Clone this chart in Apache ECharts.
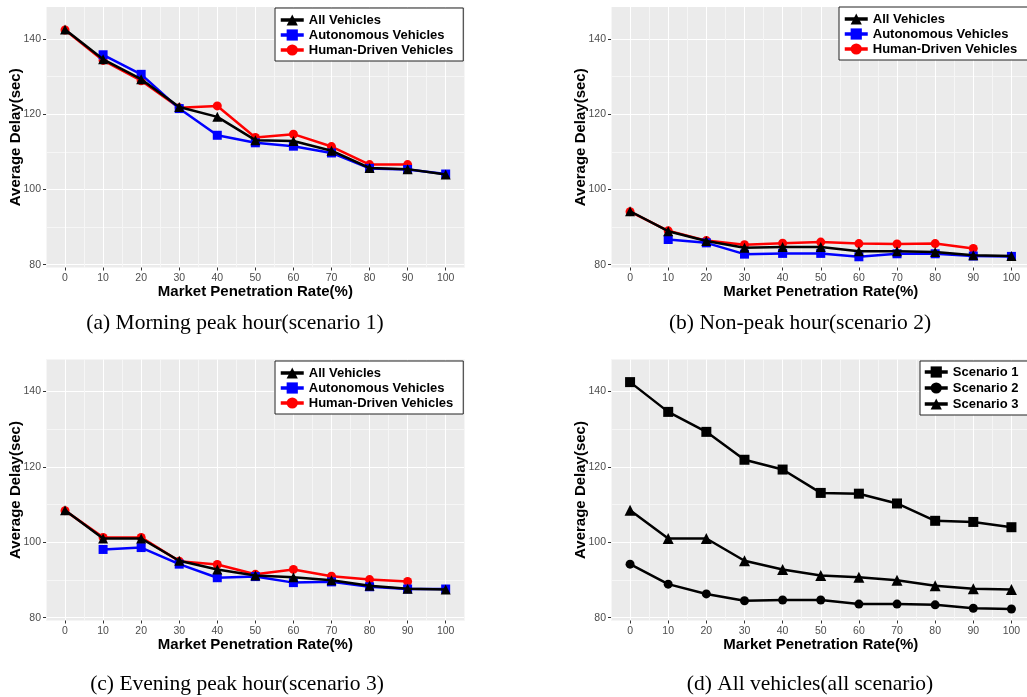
<!DOCTYPE html>
<html><head><meta charset="utf-8">
<script src="https://cdn.jsdelivr.net/npm/echarts@6.0.0/dist/echarts.min.js"></script>
<style>html,body{margin:0;padding:0;background:#fff;}#c{width:1027px;height:697px;}</style>
</head><body><div id="c"></div>
<script>
// ---- data ----
const rates = [0, 10, 20, 30, 40, 50, 60, 70, 80, 90, 100];
const xTickLabels = [0, 10, 20, 30, 40, 50, 60, 70, 80, 90, 100];
const yTickLabels = [80, 100, 120, 140];
const yGridValues = [80, 90, 100, 110, 120, 130, 140];

// (a) Morning peak hour (scenario 1)
const aAll   = [142.5, 134.6, 129.3, 121.9, 119.3, 113.1, 112.9, 110.3, 105.7, 105.4, 104.0];
const aAuto  = [null, 135.8, 130.6, 121.5, 114.4, 112.4, 111.5, 109.7, 105.6, 105.3, 104.1];
const aHuman = [142.4, 134.3, 128.9, 121.7, 122.2, 113.8, 114.7, 111.4, 106.6, 106.6, null];

// (b) Non-peak hour (scenario 2)
const bAll   = [94.2, 88.9, 86.3, 84.5, 84.7, 84.7, 83.6, 83.6, 83.4, 82.5, 82.3];
const bAuto  = [null, 86.7, 85.8, 82.8, 83.0, 83.0, 82.1, 82.9, 82.9, 82.3, 82.2];
const bHuman = [94.1, 89.0, 86.4, 85.3, 85.7, 86.0, 85.6, 85.5, 85.6, 84.3, null];

// (c) Evening peak hour (scenario 3)
const cAll   = [108.5, 101.0, 101.0, 95.1, 92.8, 91.2, 90.7, 89.9, 88.5, 87.7, 87.5];
const cAuto  = [null, 98.1, 98.6, 94.2, 90.6, 90.9, 89.3, 89.5, 88.2, 87.6, 87.6];
const cHuman = [108.4, 101.3, 101.3, 95.0, 94.1, 91.5, 92.8, 91.0, 90.1, 89.6, null];

// (d) All vehicles (all scenario)
const dScen1 = [142.5, 134.6, 129.3, 121.9, 119.3, 113.1, 112.9, 110.3, 105.7, 105.4, 104.0];
const dScen2 = [94.2, 88.9, 86.3, 84.5, 84.7, 84.7, 83.6, 83.6, 83.4, 82.5, 82.3];
const dScen3 = [108.5, 101.0, 101.0, 95.1, 92.8, 91.2, 90.7, 89.9, 88.5, 87.7, 87.5];

const captions = [
  '(a) Morning peak hour(scenario 1)',
  '(b) Non-peak hour(scenario 2)',
  '(c) Evening peak hour(scenario 3)',
  '(d) All vehicles(all scenario)'
];
const xName = 'Market Penetration Rate(%)';
const yName = 'Average Delay(sec)';
const vehNames = ['All Vehicles', 'Autonomous Vehicles', 'Human-Driven Vehicles'];
const scenNames = ['Scenario 1', 'Scenario 2', 'Scenario 3'];

// ---- build ----
function pairs(vals) {
  const out = [];
  rates.forEach((r, i) => { if (vals[i] != null) out.push([r, vals[i]]); });
  return out;
}
const SANS = '"Liberation Sans", Arial, sans-serif';
const YMIN = 79.25, YMAX = 148.5;

const grids = [
  {left: 46, top: 7, width: 418.7, height: 260.5},
  {left: 611, top: 7, width: 419.5, height: 260.5},
  {left: 46, top: 359.5, width: 418.7, height: 261},
  {left: 611, top: 359.5, width: 419.5, height: 261}
].map(g => Object.assign(g, {backgroundColor: '#EBEBEB', show: true, borderWidth: 0, outerBoundsMode: 'none', containLabel: false}));

const xAxes = [], yAxes = [];
grids.forEach((g, i) => {
  // grid-line axes
  xAxes.push({type: 'value', gridIndex: i, position: 'bottom', min: -5, max: 105, interval: 5,
    axisLine: {show: false, onZero: false}, axisTick: {show: false}, axisLabel: {show: false},
    splitLine: {show: true, lineStyle: {color: ['#f6f6f6', '#ffffff'], width: 1}}});
  yAxes.push({type: 'value', gridIndex: i, position: 'left', min: YMIN, max: YMAX,
    axisLine: {show: false, onZero: false}, axisLabel: {show: false},
    axisTick: {show: false, customValues: yGridValues},
    splitLine: {show: true, lineStyle: {color: ['#ffffff', '#f6f6f6'], width: 1}}});
  // labelled axes
  xAxes.push({type: 'value', gridIndex: i, position: 'bottom', min: -5, max: 105,
    axisLine: {show: false, onZero: false}, splitLine: {show: false},
    axisTick: {show: true, customValues: xTickLabels, length: 3, lineStyle: {color: '#333', width: 1}},
    axisLabel: {show: true, customValues: xTickLabels, margin: 5, color: '#4d4d4d', fontSize: 10.5, fontFamily: SANS},
    name: xName, nameLocation: 'middle', nameGap: 17, nameMoveOverlap: false,
    nameTextStyle: {color: '#000', fontSize: 15, fontWeight: 'bold', fontFamily: SANS, verticalAlign: 'top'}});
  yAxes.push({type: 'value', gridIndex: i, position: 'left', min: YMIN, max: YMAX,
    axisLine: {show: false, onZero: false}, splitLine: {show: false},
    axisTick: {show: true, customValues: yTickLabels, length: 3, lineStyle: {color: '#333', width: 1}},
    axisLabel: {show: true, customValues: yTickLabels, margin: 5, color: '#4d4d4d', fontSize: 10.5, fontFamily: SANS},
    name: yName, nameLocation: 'middle', nameGap: 23, nameMoveOverlap: false,
    nameTextStyle: {color: '#000', fontSize: 15, fontWeight: 'bold', fontFamily: SANS}});
});

const series = [];
function addLine(gi, name, vals, color, symbol, size, z) {
  series.push({type: 'line', name: name, xAxisIndex: gi * 2 + 1, yAxisIndex: gi * 2 + 1,
    data: pairs(vals), symbol: symbol, symbolSize: size, showSymbol: true,
    lineStyle: {color: color, width: 2.5}, itemStyle: {color: color}, z: z, silent: true});
}
[[aAll, aAuto, aHuman], [bAll, bAuto, bHuman], [cAll, cAuto, cHuman]].forEach((set, gi) => {
  addLine(gi, vehNames[2], set[2], '#ff0000', 'circle', 9, 2);
  addLine(gi, vehNames[1], set[1], '#0000ff', 'rect', 9, 3);
  addLine(gi, vehNames[0], set[0], '#000000', 'triangle', 10, 4);
});
addLine(3, scenNames[0], dScen1, '#000000', 'rect', 10, 3);
addLine(3, scenNames[1], dScen2, '#000000', 'circle', 9, 3);
addLine(3, scenNames[2], dScen3, '#000000', 'triangle', 11, 3);

function legend(names, left, top, gap, pad) {
  return {data: names, orient: 'vertical', left: left, top: top, itemWidth: 23, itemHeight: 14,
    itemGap: gap, padding: pad, backgroundColor: '#fff', borderColor: '#222', borderWidth: 1,
    selectedMode: false, lineStyle: {width: 3.5},
    textStyle: {color: '#000', fontSize: 13, fontWeight: 'bold', fontFamily: SANS, lineHeight: 14, padding: [0, 0, 0, 0]}};
}
const legends = [
  legend(vehNames, 275, 8, 1, [5, 10, 4, 4]),
  legend(vehNames, 839, 7, 1, [5, 12, 4, 4]),
  legend(vehNames, 275, 361, 1, [5, 10, 4, 4]),
  legend(scenNames, 920, 361, 2, [4, 12, 4, 3])
];

const capPos = [[235, 323], [800, 323], [237, 684], [810, 684]];
const graphics = captions.map((t, i) => ({type: 'text', x: capPos[i][0], y: capPos[i][1], silent: true,
  style: {text: t, fill: '#000', font: '21.5px "Liberation Serif", "Times New Roman", serif', textAlign: 'center', textVerticalAlign: 'middle'}}));

const chart = echarts.init(document.getElementById('c'), null, {renderer: 'canvas'});
chart.setOption({
  animation: false,
  backgroundColor: '#fff',
  grid: grids,
  xAxis: xAxes,
  yAxis: yAxes,
  legend: legends,
  series: series,
  graphic: graphics
});
</script></body></html>
